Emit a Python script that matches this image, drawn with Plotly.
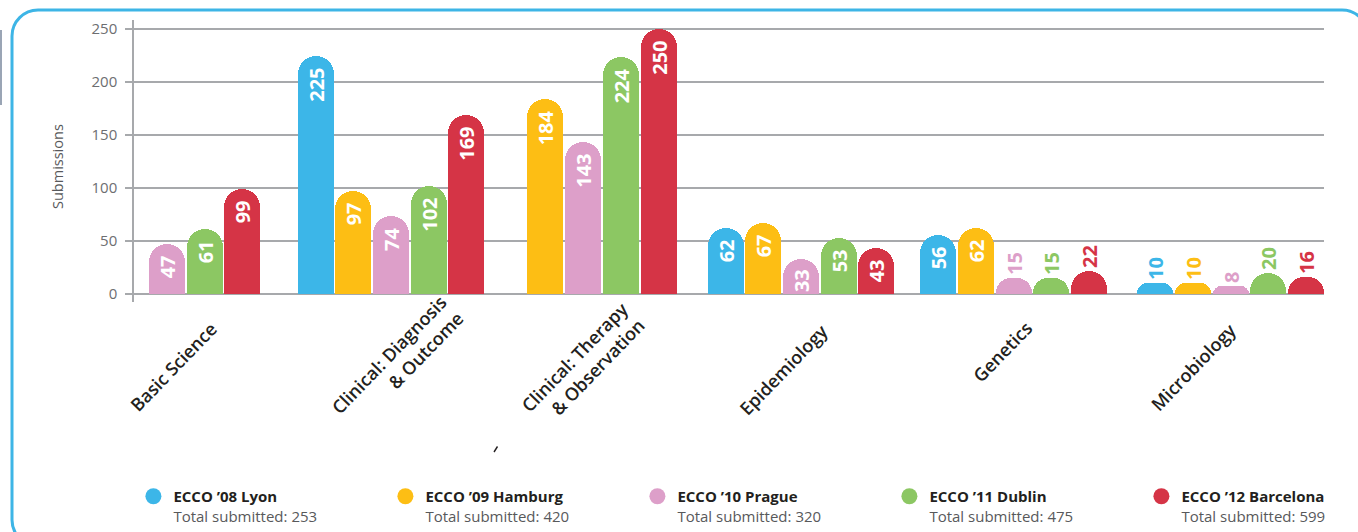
import plotly.graph_objects as go

# ---- data -------------------------------------------------------------
CATEGORIES = [
    "Basic Science",
    "Clinical: Diagnosis<br>& Outcome",
    "Clinical: Therapy<br>& Observation",
    "Epidemiology",
    "Genetics",
    "Microbiology",
]
SERIES = ["ECCO ’08 Lyon", "ECCO ’09 Hamburg", "ECCO ’10 Prague",
          "ECCO ’11 Dublin", "ECCO ’12 Barcelona"]
TOTALS = [253, 420, 320, 475, 599]

LYON = [None, 225, None, 62, 56, 10]
HAMBURG = [None, 97, 184, 67, 62, 10]
PRAGUE = [47, 74, 143, 33, 15, 8]
DUBLIN = [61, 102, 224, 53, 15, 20]
BARCELONA = [99, 169, 250, 43, 22, 16]

Y_TICKS = [0, 50, 100, 150, 200, 250]

# ---- styling / layout constants -------------------------------------
COLORS = ["#3cb6e8", "#fdbe14", "#dd9fc9", "#8cc763", "#d53446"]
VALUES = [LYON, HAMBURG, PRAGUE, DUBLIN, BARCELONA]

W, H = 1358, 532
PLOT_L, PLOT_R = 134, 1324          # plot area in pixels
PLOT_T, PLOT_B = 20, 302
Y_MIN, Y_MAX = -7.5, 258.5
PX_PER_UNIT = (PLOT_B - PLOT_T) / (Y_MAX - Y_MIN)

# x axis is measured in pixels across the plot area
GROUP_CENTRES = [204.5, 391, 602, 801, 1013.5, 1230.5]
# centre of each slanted category caption (x in axis units, y in pixels)
CAPTION_X = [173, 397, 582, 783, 1002, 1193]
CAPTION_Y = [367, 362, 365, 370, 352, 367]
SLOT = 37.7
BAR_W = 36

FONT = "Open Sans"
LABEL_SIZE = 20


def px_x(p):
    return (p - PLOT_L) / (PLOT_R - PLOT_L)


def px_y(p):
    return (PLOT_B - p) / (PLOT_B - PLOT_T)


def label_fits(v):
    # rotated value label needs roughly this many pixels of bar height
    need = len(str(v)) * 0.6 * LABEL_SIZE + 8
    return v * PX_PER_UNIT >= need


# bars of each category are packed side by side around the group centre
positions = [[None] * len(CATEGORIES) for _ in SERIES]
for c in range(len(CATEGORIES)):
    present = [s for s in range(len(SERIES)) if VALUES[s][c] is not None]
    n = len(present)
    for k, s in enumerate(present):
        positions[s][c] = GROUP_CENTRES[c] + (k - (n - 1) / 2) * SLOT

fig = go.Figure()

for s, name in enumerate(SERIES):
    xs = [positions[s][c] for c in range(len(CATEGORIES)) if VALUES[s][c] is not None]
    ys = [v for v in VALUES[s] if v is not None]
    fig.add_trace(go.Bar(
        x=xs, y=ys, width=BAR_W,
        marker=dict(color=COLORS[s], line=dict(width=0), cornerradius=18),
        text=[str(v) for v in ys],
        textposition=["inside" if label_fits(v) else "outside" for v in ys],
        textangle=-90,
        insidetextanchor="end",
        constraintext="none",
        insidetextfont=dict(family=FONT, size=LABEL_SIZE, color="white", weight=700),
        outsidetextfont=dict(family=FONT, size=LABEL_SIZE, color=COLORS[s], weight=700),
        cliponaxis=False,
        showlegend=False,
        hoverinfo="skip",
    ))

# legend entries: coloured dots with the total beneath each name
for s, name in enumerate(SERIES):
    fig.add_trace(go.Scatter(
        x=[None], y=[None], mode="markers",
        marker=dict(symbol="circle", size=16, color=COLORS[s]),
        name=(f"<b>{name}</b><br>"
              f"<span style='color:#58595b'>Total submitted: {TOTALS[s]}</span>"),
        showlegend=True,
    ))

# rounded frame around the whole graphic
fx0, fy0, fx1, fy1, r = 12, 10, 1368, 546, 26
k = 0.45
path = (
    f"M {px_x(fx0 + r)},{px_y(fy0)} "
    f"L {px_x(fx1 - r)},{px_y(fy0)} "
    f"C {px_x(fx1 - r * k)},{px_y(fy0)} {px_x(fx1)},{px_y(fy0 + r * k)} {px_x(fx1)},{px_y(fy0 + r)} "
    f"L {px_x(fx1)},{px_y(fy1 - r)} "
    f"C {px_x(fx1)},{px_y(fy1 - r * k)} {px_x(fx1 - r * k)},{px_y(fy1)} {px_x(fx1 - r)},{px_y(fy1)} "
    f"L {px_x(fx0 + r)},{px_y(fy1)} "
    f"C {px_x(fx0 + r * k)},{px_y(fy1)} {px_x(fx0)},{px_y(fy1 - r * k)} {px_x(fx0)},{px_y(fy1 - r)} "
    f"L {px_x(fx0)},{px_y(fy0 + r)} "
    f"C {px_x(fx0)},{px_y(fy0 + r * k)} {px_x(fx0 + r * k)},{px_y(fy0)} {px_x(fx0 + r)},{px_y(fy0)} Z"
)

shapes = [
    dict(type="path", xref="paper", yref="paper", path=path,
         line=dict(color="#3db5e6", width=3), fillcolor="rgba(0,0,0,0)", layer="below"),
    dict(type="rect", xref="paper", yref="paper",
         x0=px_x(0), x1=px_x(2), y0=px_y(30), y1=px_y(105),
         line=dict(width=0), fillcolor="#9aa5b5"),
    dict(type="line", xref="paper", yref="paper",
         x0=px_x(494), x1=px_x(497.5), y0=px_y(452), y1=px_y(446.5),
         line=dict(color="#231f20", width=1.4)),
]

annotations = [dict(
    text="Submissions", xref="paper", yref="paper",
    x=px_x(57), y=px_y(166), xanchor="center", yanchor="middle",
    textangle=-90, showarrow=False,
    font=dict(family=FONT, size=14.5, color="#58595b"),
)]
# slanted category captions under each group
for c, cat in enumerate(CATEGORIES):
    annotations.append(dict(
        text=cat, xref="x", yref="paper",
        x=CAPTION_X[c], y=px_y(CAPTION_Y[c]),
        xanchor="center", yanchor="middle", align="right",
        textangle=-46, showarrow=False,
        font=dict(family=FONT, size=18, color="#231f20", weight=600),
    ))

fig.update_layout(
    width=W, height=H,
    margin=dict(l=PLOT_L, r=W - PLOT_R, t=PLOT_T, b=H - PLOT_B, autoexpand=False),
    paper_bgcolor="white", plot_bgcolor="white",
    font=dict(family=FONT, color="#231f20"),
    bargap=0,
    shapes=shapes,
    annotations=annotations,
    showlegend=True,
    uniformtext=dict(minsize=LABEL_SIZE, mode="show"),
    legend=dict(
        # anchored just left of the plot area so the row may span the full width
        orientation="h", x=-0.0005, xanchor="left",
        y=px_y(480), yanchor="top",
        entrywidth=207, entrywidthmode="pixels",
        valign="top", itemsizing="trace",
        font=dict(family=FONT, size=15, color="#231f20"),
        bgcolor="rgba(0,0,0,0)", borderwidth=0,
    ),
    xaxis=dict(
        range=[PLOT_L, PLOT_R], automargin=False,
        showticklabels=False, ticks="", showgrid=False, zeroline=False, showline=False,
        fixedrange=True,
    ),
    yaxis=dict(
        range=[Y_MIN, Y_MAX], automargin=False,
        tickmode="array", tickvals=Y_TICKS,
        ticks="outside", ticklen=7, tickcolor="#a7a9ac", tickwidth=1.5,
        ticklabelstandoff=5,
        showgrid=True, gridcolor="#a7a9ac", gridwidth=1.5,
        zeroline=False, showline=True, linecolor="#a7a9ac", linewidth=1.5,
        tickfont=dict(family=FONT, size=15, color="#6d6e71"),
        fixedrange=True,
    ),
)

fig.write_html("out.html")
